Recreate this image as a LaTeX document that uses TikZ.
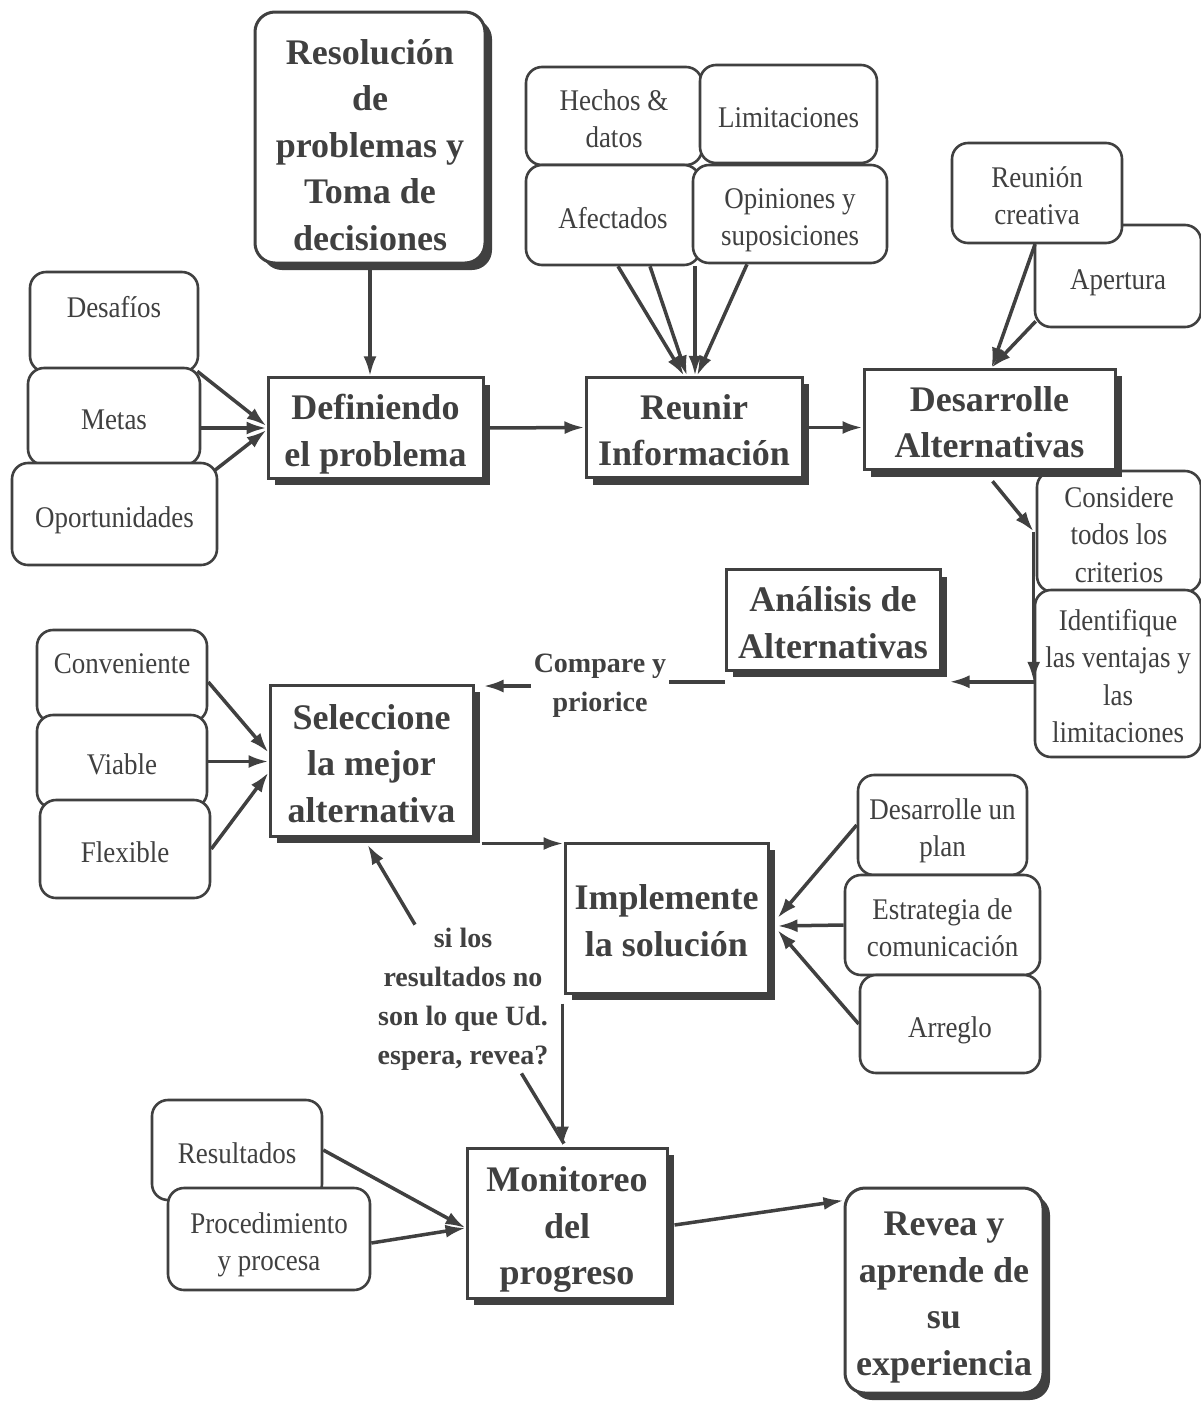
\documentclass[tikz,border=0pt]{standalone}
\usepackage{fontspec}
\setmainfont{Liberation Serif}
\newfontfamily\regfont[FakeStretch=0.9]{Liberation Serif}
\usetikzlibrary{arrows.meta,shadows,calc}
\definecolor{ink}{HTML}{404040}
% invisible struts fixing the height of the first line of a text block
\newcommand\boldtop[1][40pt]{\rule{0pt}{#1}}
\newcommand\softtop{\rule{0pt}{34pt}}
\begin{document}
\begin{tikzpicture}[x=1pt,y=-1pt,
  struts/.style 2 args={execute at begin node={\rule{0pt}{#1}},
    execute at end node={\rule[-#2]{0pt}{0pt}}},
  soft/.style={draw=ink, line width=2.6pt, fill=white, rounded corners=16pt,
    text=ink, align=center, inner sep=2pt,
    font=\regfont\fontsize{30}{37.5}\selectfont, struts={34pt}{8pt}},
  heavy/.style={draw=ink, line width=3pt, fill=white, text=ink, align=center,
    inner sep=2pt, font=\fontsize{36}{46.5}\selectfont\bfseries,
    struts={40pt}{10pt},
    drop shadow={shadow xshift=7pt, shadow yshift=-7pt, fill=ink, opacity=1}},
  heavyround/.style={heavy, rounded corners=20pt},
  note/.style={text=ink, align=center, inner sep=3pt,
    font=\fontsize{28}{39}\selectfont\bfseries},
  box/.style 2 args={minimum width=#1pt, minimum height=#2pt},
  ln/.style={draw=ink, line width=3.5pt},
  arr/.style={ln, -{Latex[length=20pt,width=13pt]}},
]
\fill[white] (0,0) rectangle (1201,1401);
\useasboundingbox (0,0) rectangle (1201,1401);

% main title
\node[heavyround, box={230}{251}] (res) at (370,137.5)
  {\boldtop[49pt]Resolución\\de\\problemas y\\Toma de\\decisiones};

% define the problem
\node[soft, box={168}{100}, text depth=44pt] (desaf) at (114,322) {Desafíos};
\node[soft, box={172}{97}] (metas) at (114,416.5) {Metas};
\node[soft, box={205}{102}] (oport) at (114.5,514) {Oportunidades};
\node[heavy, box={215}{100}] (def) at (375.5,428) {\boldtop Definiendo\\el problema};

% gather information
\node[soft, box={176}{98}] (hech) at (614,116) {\softtop Hechos \&\\datos};
\node[soft, box={177}{98}] (lim) at (788.5,114) {Limitaciones};
\node[soft, box={174}{100}] (afec) at (613,215) {Afectados};
\node[soft, box={194}{98}] (opin) at (790,214) {\softtop Opiniones y\\suposiciones};
\node[heavy, box={216}{99}] (reu) at (694,427.5) {\boldtop Reunir\\Información};

% develop alternatives
\node[soft, box={166}{102}] (aper) at (1118,276) {Apertura};
\node[soft, box={170}{100}] (reuc) at (1037,193) {\softtop Reunión\\creativa};
\node[soft, box={164}{117}] (cons) at (1119,531.5)
  {\softtop Considere\\todos los\\criterios};
\node[soft, box={166}{167}] (ident) at (1118,673.5)
  {\softtop Identifique\\las ventajas y\\las\\limitaciones};
\node[heavy, box={251}{93}] (desa) at (989.5,419.5)
  {\boldtop Desarrolle\\Alternativas};
\node[heavy, box={214}{96}] (anal) at (833,620) {\boldtop Análisis de\\Alternativas};
\node[note] (cmp) at (600,686) {Compare y\\priorice};

% select
\node[soft, box={170}{92}, text depth=40pt] (conv) at (122,676) {Conveniente};
\node[soft, box={170}{93}] (viab) at (122,761.5) {Viable};
\node[soft, box={170}{98}] (flex) at (125,849) {Flexible};
\node[heavy, box={203}{151}] (sel) at (371.5,760.5)
  {\boldtop Seleccione\\la mejor\\alternativa};

% implement
\node[soft, box={169}{100}] (dplan) at (942.5,825) {\softtop Desarrolle un\\plan};
\node[soft, box={195}{100}] (estr) at (942.5,925)
  {\softtop Estrategia de\\comunicación};
\node[soft, box={180}{98}] (arre) at (950,1024) {Arreglo};
\node[heavy, box={203}{150}] (impl) at (666.5,918)
  {\boldtop Implemente\\la solución};

% monitor and review
\node[note] (fb) at (463,999)
  {si los\\resultados no\\son lo que Ud.\\espera, revea?};
\node[soft, box={170}{100}] (resu) at (237,1150) {Resultados};
\node[soft, box={202}{102}] (proc) at (269,1239) {\softtop Procedimiento\\y procesa};
\node[heavy, box={200}{150}] (mon) at (567,1223) {\boldtop Monitoreo\\del\\progreso};
\node[heavyround, box={198}{205}] (rev) at (944,1290.5)
  {\boldtop Revea y\\aprende de\\su\\experiencia};

% ---- connectors ----
\draw[arr] (res.south) -- (res.south |- def.north);
\draw[arr] ([xshift=-2pt,yshift=2pt]desaf.south east) -- ([yshift=2pt]def.west);
\draw[arr] (metas.east |- def.west) -- (def.west);
\draw[arr] ([xshift=-4pt,yshift=-9pt]oport.north east) -- ([yshift=-2pt]def.west);

\draw[arr] (def.east) -- (reu.west);
\draw[arr] (reu.east) -- (reu.east -| desa.west);

\draw[arr] ([xshift=5pt]afec.south) -- ([xshift=-10pt]reu.north);
\draw[arr] ([xshift=37pt]afec.south) -- ([xshift=-7pt]reu.north);
\draw[arr] ([xshift=82pt]afec.south) -- ([xshift=1pt]reu.north);
\draw[arr] ([xshift=-43pt]opin.south) -- ([xshift=3pt]reu.north);

\draw[arr] ([xshift=-2pt]reuc.south) -- ([xshift=2pt]desa.north);
\draw[arr] ([xshift=2pt,yshift=7pt]aper.south west) -- ([xshift=2pt]desa.north);

\coordinate (k0) at ([xshift=3pt,yshift=-10pt]desa.south);
\coordinate (k1) at ([xshift=-2pt]cons.west);
\coordinate (aR) at ([xshift=8pt,yshift=-10pt]anal.south east);
\coordinate (k2) at (k1 |- aR);
\draw[arr] (k0) -- (k1);
\draw[arr] (k1) -- (k2);
\draw[arr] (k2) -- (aR);

\coordinate (aL) at ([yshift=-10pt]anal.south west);
\draw[ln] (aL) -- (aL -| cmp.east);
\coordinate (sR) at ([xshift=9pt]sel.north east);
\draw[arr] (cmp.west) -- (cmp.west -| sR);

\draw[arr] ([yshift=-6pt]conv.east) -- ([yshift=8pt]sel.west);
\draw[arr] (viab.east) -- (viab.east -| sel.west);
\draw[arr] (flex.east) -- ([yshift=-12pt]sel.west);

\coordinate (sB) at ([xshift=7pt,yshift=-6pt]sel.south east);
\draw[arr] (sB) -- (sB -| impl.west);

\draw[arr] (dplan.west) -- ([xshift=8pt]impl.east);
\draw[arr] (estr.west) -- ([xshift=8pt,yshift=-8pt]impl.east);
\draw[arr] (arre.west) -- ([xshift=8pt,yshift=-12pt]impl.east);

\coordinate (iB) at ([xshift=-1pt,yshift=-9pt]impl.south west);
\draw[arr] (iB) -- (iB |- mon.north);
\draw[ln] ([xshift=-30pt]fb.south east) -- ([xshift=-3pt,yshift=3pt]mon.north);
\draw[arr] ([xshift=-48pt]fb.north) -- ([xshift=-4pt,yshift=-7pt]sel.south);

\draw[arr] (resu.east) -- ([yshift=-5pt]mon.west);
\draw[arr] ([yshift=-4pt]proc.east) -- ([yshift=-5pt]mon.west);
\draw[arr] ([xshift=6pt,yshift=-2pt]mon.east) -- ([yshift=-14pt]rev.north west);
\end{tikzpicture}
\end{document}
